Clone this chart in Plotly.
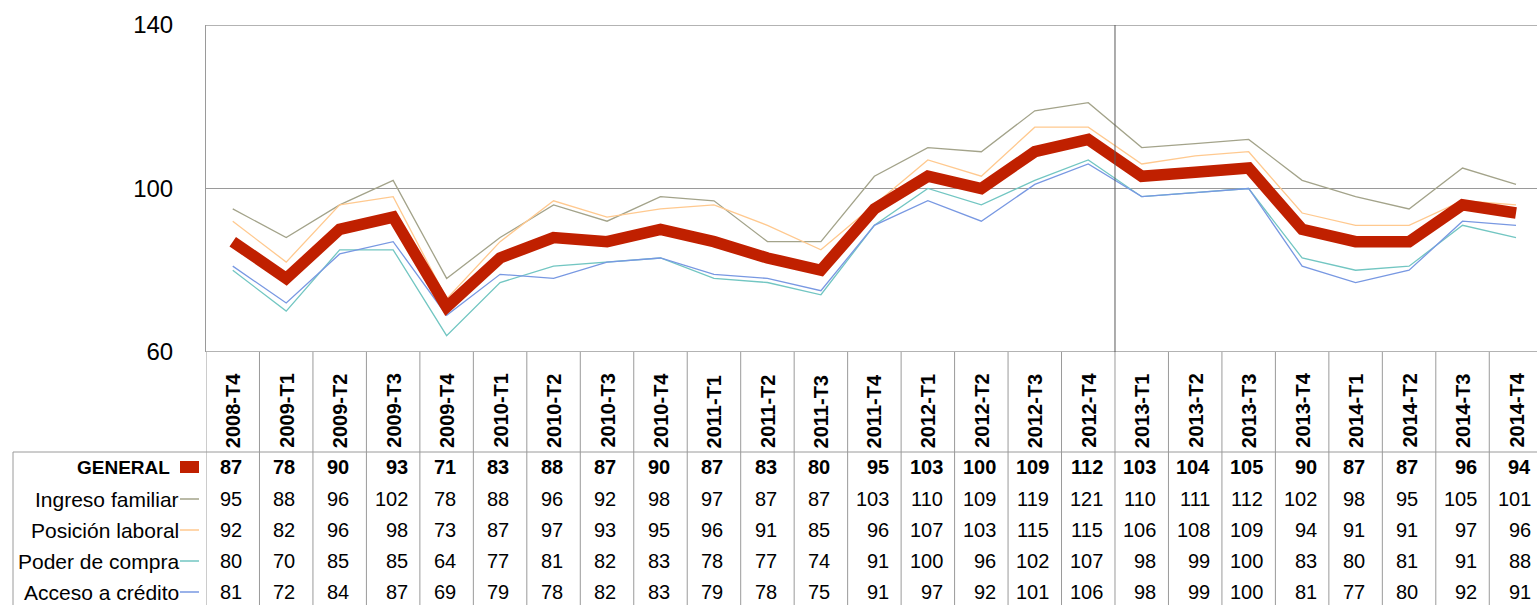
import plotly.graph_objects as go

W, H = 1537, 605

categories = ["2008-T4", "2009-T1", "2009-T2", "2009-T3", "2009-T4", "2010-T1", "2010-T2",
              "2010-T3", "2010-T4", "2011-T1", "2011-T2", "2011-T3", "2011-T4", "2012-T1",
              "2012-T2", "2012-T3", "2012-T4", "2013-T1", "2013-T2", "2013-T3", "2013-T4",
              "2014-T1", "2014-T2", "2014-T3", "2014-T4"]

general = [87, 78, 90, 93, 71, 83, 88, 87, 90, 87, 83, 80, 95, 103, 100, 109, 112, 103, 104, 105, 90, 87, 87, 96, 94]
ingreso = [95, 88, 96, 102, 78, 88, 96, 92, 98, 97, 87, 87, 103, 110, 109, 119, 121, 110, 111, 112, 102, 98, 95, 105, 101]
posicion = [92, 82, 96, 98, 73, 87, 97, 93, 95, 96, 91, 85, 96, 107, 103, 115, 115, 106, 108, 109, 94, 91, 91, 97, 96]
poder = [80, 70, 85, 85, 64, 77, 81, 82, 83, 78, 77, 74, 91, 100, 96, 102, 107, 98, 99, 100, 83, 80, 81, 91, 88]
acceso = [81, 72, 84, 87, 69, 79, 78, 82, 83, 79, 78, 75, 91, 97, 92, 101, 106, 98, 99, 100, 81, 77, 80, 92, 91]

series_names = ["GENERAL", "Ingreso familiar", "Posición laboral", "Poder de compra", "Acceso a crédito"]
series_values = [general, ingreso, posicion, poder, acceso]
series_colors = ["#C02000", "#A3A38A", "#FFC98F", "#72C6C2", "#7898E2"]

y_ticks = [60, 100, 140]

FONT = "Liberation Sans, Arial, sans-serif"

# layout geometry (pixels)
plot_left, plot_top, plot_bottom = 206, 25, 352
cell_w = 53.47
table_top = 452
table_left = 13
row_y = [467, 499, 530, 561, 592]
key_x0, key_x1 = 180, 199


def py(p):
    return 1 - p / H


n = len(categories)
x_end = -0.5 + (W - plot_left) / cell_w

fig = go.Figure()

# thin lines first, GENERAL on top
for name, vals, col in list(zip(series_names, series_values, series_colors))[1:]:
    fig.add_trace(go.Scatter(x=list(range(n)), y=vals, mode="lines", name=name,
                             line=dict(color=col, width=1.3), showlegend=False,
                             hoverinfo="skip"))
fig.add_trace(go.Scatter(x=list(range(n)), y=general, mode="lines", name="GENERAL",
                         line=dict(color=series_colors[0], width=11.5), showlegend=False,
                         hoverinfo="skip"))

shapes = []
annotations = []
grid_col = "#9A9A9A"

# plot borders top / bottom
for yv in (60, 140):
    shapes.append(dict(type="line", xref="paper", yref="y", x0=plot_left / W, x1=1, y0=yv, y1=yv,
                       line=dict(color=grid_col, width=1.5)))

# separator line between 2012-T4 and 2013-T1
shapes.append(dict(type="line", xref="x", yref="y", x0=16.5, x1=16.5, y0=60, y1=140,
                   line=dict(color="#5A5A5A", width=1)))

# table cell vertical lines
for i in range(n + 1):
    shapes.append(dict(type="line", xref="x", yref="paper", x0=i - 0.5, x1=i - 0.5,
                       y0=0, y1=py(plot_bottom), line=dict(color=grid_col, width=1)))
# table top line and left border
shapes.append(dict(type="line", xref="paper", yref="paper", x0=table_left / W, x1=1,
                   y0=py(table_top), y1=py(table_top), line=dict(color=grid_col, width=1)))
shapes.append(dict(type="line", xref="paper", yref="paper", x0=table_left / W, x1=table_left / W,
                   y0=0, y1=py(table_top), line=dict(color=grid_col, width=1)))

# category labels
for i, c in enumerate(categories):
    annotations.append(dict(x=i, xref="x", y=py(table_top - 2), yref="paper", text="<b>%s</b>" % c,
                            textangle=-90, showarrow=False, xanchor="center", yanchor="bottom",
                            font=dict(family=FONT, size=20, color="black")))

# row labels and legend keys
for r, (name, col) in enumerate(zip(series_names, series_colors)):
    yc = row_y[r]
    txt = "<b>%s</b>" % name if r == 0 else name
    annotations.append(dict(x=(172 if r == 0 else 181) / W, xref="paper", y=py(yc), yref="paper",
                            text=txt, showarrow=False, xanchor="right", yanchor="middle",
                            font=dict(family=FONT, size=21 if r else 19, color="black")))
    if r == 0:
        shapes.append(dict(type="rect", xref="paper", yref="paper", x0=key_x0 / W, x1=key_x1 / W,
                           y0=py(yc + 6), y1=py(yc - 6), fillcolor=col, line=dict(width=0)))
    else:
        shapes.append(dict(type="line", xref="paper", yref="paper", x0=key_x0 / W, x1=key_x1 / W,
                           y0=py(yc), y1=py(yc), line=dict(color=col, width=1.5)))

# table values: right-aligned within column, block centred in the cell
digit_w = 11.1
for i in range(n):
    maxlen = max(len(str(vals[i])) for vals in series_values)
    shift = maxlen * digit_w / 2
    for r, vals in enumerate(series_values):
        v = vals[i]
        txt = "<b>%d</b>" % v if r == 0 else str(v)
        annotations.append(dict(x=i, xref="x", y=py(row_y[r]), yref="paper", text=txt,
                                showarrow=False, xanchor="right", yanchor="middle", xshift=shift,
                                font=dict(family=FONT, size=20, color="black")))

fig.update_layout(
    width=W, height=H,
    margin=dict(l=0, r=0, t=0, b=0, pad=0),
    paper_bgcolor="white", plot_bgcolor="white",
    xaxis=dict(domain=[plot_left / W, 1], range=[-0.5, x_end], showticklabels=False,
               showgrid=False, zeroline=False, showline=False, fixedrange=True, automargin=False),
    yaxis=dict(domain=[py(plot_bottom), py(plot_top)], range=[60, 140], tickvals=y_ticks,
               ticktext=[str(t) for t in y_ticks], showgrid=True, gridcolor=grid_col, gridwidth=1,
               zeroline=False, showline=True, linecolor=grid_col, linewidth=1,
               ticks="", ticklabelstandoff=27, automargin=False,
               tickfont=dict(family=FONT, size=24, color="black"), fixedrange=True),
    shapes=shapes,
    annotations=annotations,
    showlegend=False,
)

fig.write_html("out.html", config={"displayModeBar": False},
               post_script="document.body.style.margin='0';document.body.style.overflow='hidden';")
